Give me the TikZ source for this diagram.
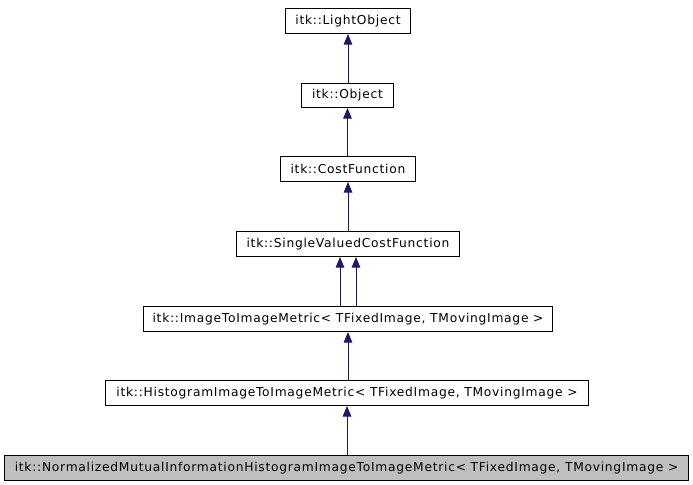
\documentclass[tikz,border=0pt]{standalone}
\usepackage{fontspec}
\setmainfont{DejaVu Sans}[LetterSpace=6]
\usetikzlibrary{arrows.meta}
\definecolor{edgeblue}{HTML}{191970}
\definecolor{grayfill}{HTML}{BFBFBF}
\tikzset{
  cls/.style={draw=black, line width=0.75pt, fill=white, inner sep=0pt, font=\fontsize{9.2pt}{11pt}\selectfont, anchor=north west},
  inh/.style={draw=edgeblue, line width=0.75pt, -{Triangle[length=8pt,width=6.5pt]}}
}
\begin{document}
\begin{tikzpicture}[x=0.75pt,y=-0.75pt]
\useasboundingbox (0,0) rectangle (693,485);
\node[cls, minimum width=125*0.75pt, minimum height=25*0.75pt] (lo) at (285,8) {itk::LightObject};
\node[cls, minimum width=92*0.75pt, minimum height=24*0.75pt] (ob) at (301,83) {itk::Object};
\node[cls, minimum width=135*0.75pt, minimum height=25*0.75pt] (cf) at (280,156) {itk::CostFunction};
\node[cls, minimum width=223*0.75pt, minimum height=25*0.75pt] (sv) at (236,231) {itk::SingleValuedCostFunction};
\node[cls, minimum width=409*0.75pt, minimum height=25*0.75pt] (im) at (143,306) {itk::ImageToImageMetric< TFixedImage, TMovingImage >};
\node[cls, minimum width=483*0.75pt, minimum height=25*0.75pt] (hi) at (105,380) {itk::HistogramImageToImageMetric< TFixedImage, TMovingImage >};
\node[cls, fill=grayfill, minimum width=684*0.75pt, minimum height=25*0.75pt] (nm) at (4,455) {itk::NormalizedMutualInformationHistogramImageToImageMetric< TFixedImage, TMovingImage >};
\draw[inh] (ob.north -| lo.south) -- (lo.south);
\draw[inh] (cf.north -| ob.south) -- (ob.south);
\draw[inh] (sv.north -| cf.south) -- (cf.south);
\coordinate (a1) at ([xshift=-8*0.75pt]sv.south);
\coordinate (a2) at ([xshift=8*0.75pt]sv.south);
\draw[inh] (im.north -| a1) -- (a1);
\draw[inh] (im.north -| a2) -- (a2);
\draw[inh] (hi.north -| im.south) -- (im.south);
\draw[inh] (nm.north -| hi.south) -- (hi.south);
\end{tikzpicture}
\end{document}
